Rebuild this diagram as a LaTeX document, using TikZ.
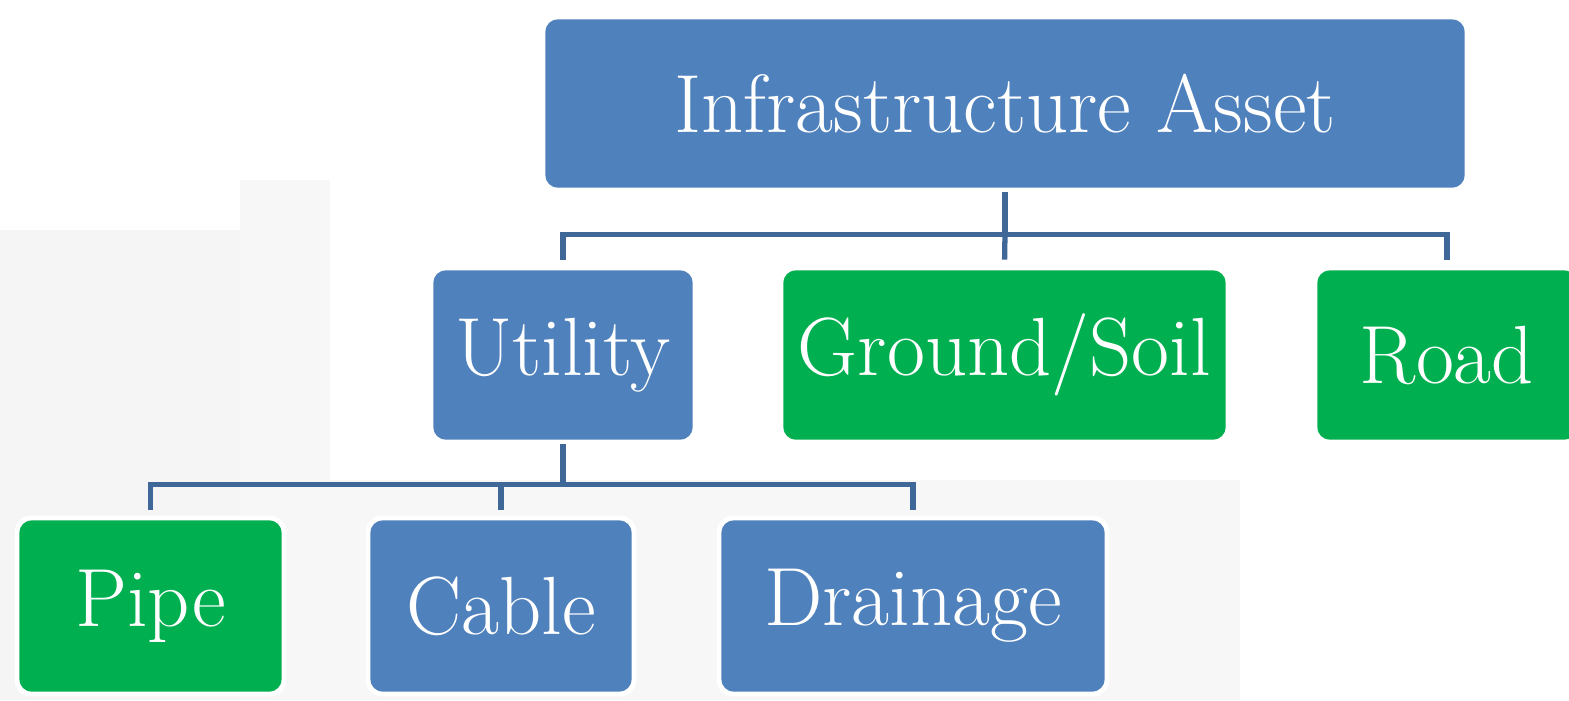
\documentclass[tikz,border=0pt]{standalone}
\usepackage{tikz}
\usetikzlibrary{positioning, calc, backgrounds}

\definecolor{assetblue}{HTML}{4F81BD}
\definecolor{assetgreen}{HTML}{00AF50}
\definecolor{linkblue}{HTML}{3F6797}

\begin{document}
\begin{tikzpicture}[
  box/.style={rectangle, rounded corners=4pt, draw=white, line width=1.4pt,
    text=white, align=center, font=\fontsize{23.5}{28}\selectfont,
    minimum height=1.74cm, inner sep=0pt},
  bluebox/.style={box, fill=assetblue},
  greenbox/.style={box, fill=assetgreen},
  link/.style={draw=linkblue, line width=1.5pt, shorten >=0.06cm},
]
\useasboundingbox (0,0) rectangle (15.69,-7.00);
%
% ====== FADED BACKDROP ======
\begin{scope}[on background layer]
  \fill[black!4] (0,-2.3) rectangle (3.3,-7.0);
  \fill[black!3] (2.4,-1.8) rectangle (3.3,-7.0);
  \fill[black!3] (3.3,-4.8) rectangle (12.4,-7.0);
\end{scope}
%
% ====== TOP LEVEL ======
\node[bluebox, minimum width=9.24cm, minimum height=1.73cm] (infra)
  at (10.05, -1.035) {Infrastructure Asset};
%
% ====== SECOND LEVEL ======
\node[bluebox, minimum width=2.64cm] (utility) at (5.63, -3.55) {Utility};
\node[greenbox, minimum width=4.47cm] (ground) at (10.045, -3.55) {Ground/Soil};
\node[greenbox, minimum width=2.64cm] (road) at (14.47, -3.55) {Road};
%
% ====== THIRD LEVEL ======
\node[greenbox, minimum width=2.67cm, minimum height=1.76cm] (pipe)
  at (1.505, -6.06) {Pipe};
\node[bluebox, minimum width=2.66cm, minimum height=1.76cm] (cable)
  at (5.01, -6.06) {Cable};
\node[bluebox, minimum width=3.88cm, minimum height=1.76cm] (drain)
  at (9.13, -6.06) {Drainage};
%
% ====== CONNECTORS ======
\coordinate (busA) at ($(infra.south)+(0,-0.42)$);
\draw[link, shorten >=0pt] (infra.south) -- (busA);
\draw[link] (busA) -| (utility.north);
\draw[link] (busA) -- (ground.north);
\draw[link] (busA) -| (road.north);
%
\coordinate (busB) at ($(utility.south)+(0,-0.40)$);
\draw[link, shorten >=0pt] (utility.south) -- (busB);
\draw[link] (busB) -| (pipe.north);
\draw[link] (busB) -| (cable.north);
\draw[link] (busB) -| (drain.north);
\end{tikzpicture}
\end{document}
